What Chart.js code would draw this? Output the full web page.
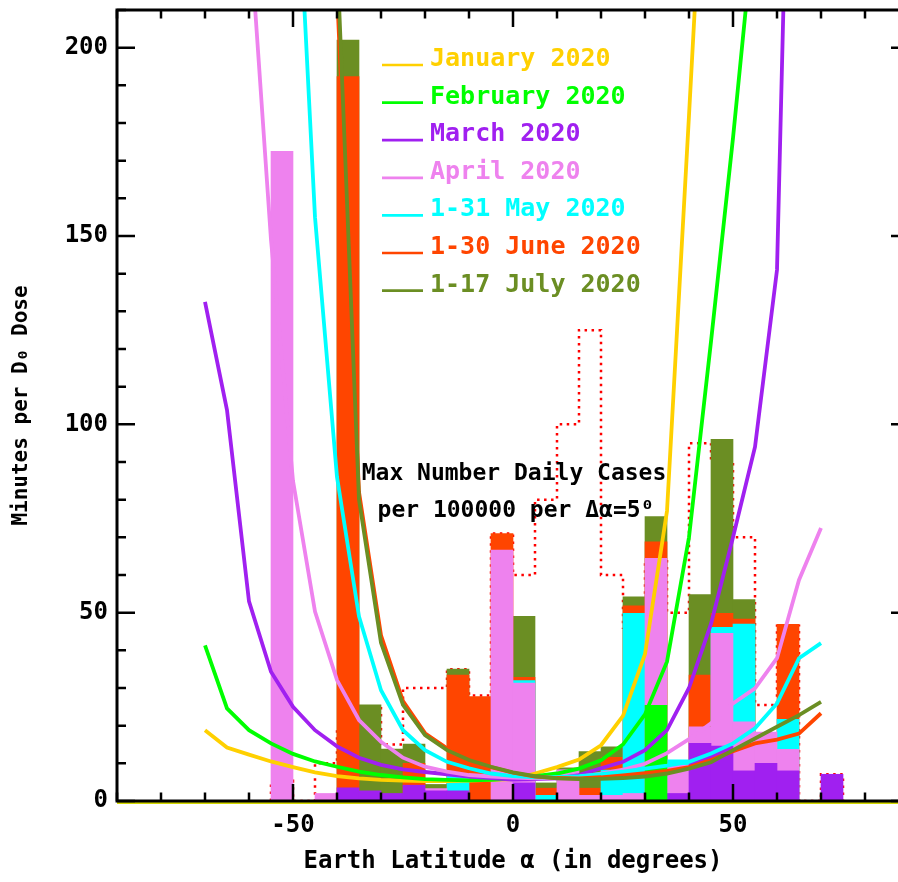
<!DOCTYPE html>
<html>
<head>
<meta charset="utf-8">
<title>Minutes per D0 dose vs latitude</title>
<script src="https://cdn.jsdelivr.net/npm/chart.js@4"></script>
<style>
  html, body { margin: 0; padding: 0; background: #fff; overflow: hidden; }
  #wrap { position: absolute; left: 0; top: 0; }
</style>
</head>
<body>
<div id="wrap"><canvas id="chart" width="909" height="882"></canvas></div>
<script>
// curve vertices, every 5 degrees of latitude
var latitude = [-70, -65, -60, -55, -50, -45, -40, -35, -30, -25, -20, -15, -10, -5, 0,
                5, 10, 15, 20, 25, 30, 35, 40, 45, 50, 55, 60, 65, 70];

var janMinutes = [18.8, 14.2, 12.3, 10.5, 9.0, 7.6, 6.6, 6.0, 5.6, 5.4, 5.3, 5.3, 5.4, 5.6, 5.8,
                  7.3, 9.0, 11.0, 14.8, 22.6, 39, 77, 182, 290, null, null, null, null, null];
var febMinutes = [41.3, 24.6, 18.8, 15.3, 12.5, 10.5, 9.1, 7.8, 6.9, 6.3, 5.8, 5.6, 5.5, 5.6, 6.0,
                  6.6, 7.3, 8.6, 10.8, 15.0, 23, 37, 70, 122, 176, 235, null, null, null];
var marMinutes = [132.5, 103.8, 53, 34.3, 25, 18.8, 14.5, 11.5, 9.6, 8.4, 7.7, 7.1, 6.5, 6.1, 5.7,
                  5.8, 6.0, 6.9, 8.7, 10.4, 13.5, 18.8, 30, 47, 70, 94, 141, 380, null];
var aprMinutes = [null, 400, 234, 149, 85, 50.3, 32.1, 21.5, 15.7, 11.5, 9.1, 7.8, 6.9, 6.5, 6.2,
                  6.0, 6.0, 6.4, 7.3, 8.3, 9.9, 12.7, 16.4, 20.6, 25.9, 29.9, 37.9, 58.7, 72.5];
var mayMinutes = [null, null, null, 480, 270, 155, 86, 49, 29.4, 18.8, 13.5, 10.4, 8.7, 7.3, 6.6,
                  6.3, 6.3, 6.6, 7.1, 7.8, 8.6, 9.4, 10.4, 12.6, 15.3, 19.3, 25.9, 37.9, 41.9];
var junMinutes = [null, null, null, null, null, 500, 215, 82, 44, 26.5, 18, 14, 11, 9, 7.5,
                  6.5, 6.1, 6.0, 6.3, 6.8, 7.4, 8.0, 9.0, 10.9, 13.2, 15.3, 16.3, 17.9, 23.3];
var julMinutes = [null, null, null, null, null, 520, 225, 80, 42, 25.5, 17.5, 13.5, 10.9, 9.1, 7.6,
                  6.6, 6.0, 5.8, 5.9, 6.1, 6.5, 7.3, 8.6, 10.3, 13.5, 16.6, 19.7, 22.8, 26.3];

// histogram bins (centre of each 5 degree bin)
var binCenters = [-52.5, -47.5, -42.5, -37.5, -32.5, -27.5, -22.5, -17.5, -12.5, -7.5, -2.5,
                  2.5, 7.5, 12.5, 17.5, 22.5, 27.5, 32.5, 37.5, 42.5, 47.5, 52.5, 57.5, 62.5, 67.5, 72.5];
var binWidth = 5;

// max daily cases per 100000 in each bin
var julCases = [0, 0, 0, 202, 25.5, 13.8, 15.1, 4.4, 35.0, 0, 0,
                49, 4.8, 8.8, 13.1, 14.4, 54.2, 75.5, 0, 54.8, 96, 53.5, 0, 0, 0, 0];
var junCases = [0, 0, 0, 192.3, 0, 0, 10, 0, 33.4, 27.7, 71,
                32.8, 3.4, 0, 3.4, 11.6, 51.8, 68.8, 0, 33.4, 49.8, 48.3, 0, 46.9, 0, 0];
var mayCases = [0, 0, 0, 0, 0, 0, 0, 0, 7, 0, 0,
                32, 1.5, 0, 0, 8.2, 49.8, 0, 10.9, 0, 46.1, 47, 0, 21.7, 0, 0];
var aprCases = [172.5, 0, 2, 0, 0, 0, 0, 3.3, 0, 0, 66.6,
                31.3, 0, 8.3, 1.5, 1.5, 2, 64.4, 9.5, 19.7, 44.5, 21, 18.3, 13.7, 0, 0];
var marCases = [0, 0, 0, 3.5, 2.7, 2.0, 4.2, 2.7, 2.7, 0, 0,
                4.8, 0, 0, 0, 0, 0, 0, 2, 15.3, 14.6, 8, 10, 8, 0, 7.1];
var febCases = [0, 0, 0, 0, 0, 0, 0, 0, 0, 0, 0,
                0, 0, 0, 0, 0, 0, 25.4, 0, 0, 0, 0, 0, 0, 0, 0];
// dotted red histogram
var dottedCases = [5.4, 0, 10, 19.5, 25, 15, 30, 30, 35, 28, 71,
                   60, 80, 100, 125, 60, 46, 64, 50, 95, 90, 70, 25.5, 46.5, 0, 7.1];

var xTickValues = [-50, 0, 50];
var yTickValues = [0, 50, 100, 150, 200];

var monthLabels = ['January 2020', 'February 2020', 'March 2020', 'April 2020',
                   '1-31 May 2020', '1-30 June 2020', '1-17 July 2020'];
var monthColors = ['#FFD000', '#00FF00', '#A020F0', '#EE82EE', '#00FFFF', '#FF4500', '#6B8E23'];

var FONT = '"DejaVu Sans Mono", "Liberation Mono", monospace';

function curvePoints(xs, ys) {
    var out = [];
    for (var i = 0; i < xs.length; i++) {
        if (ys[i] !== null) out.push({ x: xs[i], y: ys[i] });
    }
    return out;
}

function barPoints(ys) {
    return binCenters.map((c, i) => ({ x: c, y: ys[i] }));
}

function stepPoints(ys) {
    var out = [{ x: binCenters[0] - binWidth / 2, y: 0 }];
    binCenters.forEach((c, i) => out.push({ x: c - binWidth / 2, y: ys[i] }));
    out.push({ x: binCenters[binCenters.length - 1] + binWidth / 2, y: 0 });
    return out;
}

var curves = [janMinutes, febMinutes, marMinutes, aprMinutes, mayMinutes, junMinutes, julMinutes];
// bars drawn back to front: July behind, February in front
var bars = [
    { data: julCases, month: 6 },
    { data: junCases, month: 5 },
    { data: mayCases, month: 4 },
    { data: aprCases, month: 3 },
    { data: marCases, month: 2 },
    { data: febCases, month: 1 }
];

var datasets = [];

datasets.push({
    type: 'line',
    label: 'cases',
    data: stepPoints(dottedCases),
    stepped: true,
    borderColor: '#FF0000',
    borderWidth: 2.5,
    borderDash: [2.5, 4.5],
    pointRadius: 0,
    fill: false,
    order: 100
});

bars.forEach((b, i) => {
    datasets.push({
        type: 'bar',
        label: monthLabels[b.month] + ' cases',
        data: barPoints(b.data),
        backgroundColor: monthColors[b.month],
        borderWidth: 0,
        barPercentage: 1,
        categoryPercentage: 1,
        grouped: false,
        order: 90 - i
    });
});

curves.forEach((c, i) => {
    datasets.push({
        type: 'line',
        label: monthLabels[i],
        data: curvePoints(latitude, c),
        borderColor: monthColors[i],
        borderWidth: 3.8,
        pointRadius: 0,
        tension: 0,
        fill: false,
        legendRow: i,
        order: 10 - i
    });
});

var overlayPlugin = {
    id: 'overlay',
    afterDraw: function (chart) {
        var ctx = chart.ctx;
        var area = chart.chartArea;
        var xs = chart.scales.x, ys = chart.scales.y;
        ctx.save();

        // thin yellow base line just under the x axis
        ctx.strokeStyle = '#D4D800';
        ctx.lineWidth = 2;
        ctx.beginPath();
        ctx.moveTo(area.left, area.bottom + 2);
        ctx.lineTo(area.right, area.bottom + 2);
        ctx.stroke();

        // frame with inward ticks
        ctx.strokeStyle = '#000';
        ctx.lineWidth = 3;
        ctx.strokeRect(area.left, area.top, area.right - area.left, area.bottom - area.top);
        ctx.lineWidth = 2.5;
        ctx.beginPath();
        for (var v = xs.min; v <= xs.max; v += 10) {
            var px = xs.getPixelForValue(v);
            var len = v % 50 === 0 ? 17 : 8.5;
            ctx.moveTo(px, area.bottom); ctx.lineTo(px, area.bottom - len);
            ctx.moveTo(px, area.top); ctx.lineTo(px, area.top + len);
        }
        for (var w = ys.min; w <= ys.max; w += 10) {
            var py = ys.getPixelForValue(w);
            var len2 = w % 50 === 0 ? 18 : 9;
            ctx.moveTo(area.left, py); ctx.lineTo(area.left + len2, py);
            ctx.moveTo(area.right, py); ctx.lineTo(area.right - len2, py);
        }
        ctx.stroke();

        // legend
        ctx.font = 'bold 25px ' + FONT;
        ctx.textAlign = 'left';
        ctx.textBaseline = 'alphabetic';
        chart.data.datasets.forEach(ds => {
            if (ds.legendRow === undefined) return;
            var yy = area.top + 55 + ds.legendRow * 37.6;
            ctx.strokeStyle = ds.borderColor;
            ctx.lineWidth = 2.7;
            ctx.beginPath();
            ctx.moveTo(382, yy);
            ctx.lineTo(423, yy);
            ctx.stroke();
            ctx.fillStyle = ds.borderColor;
            ctx.fillText(ds.label, 430, yy + 1);
        });

        // annotation
        ctx.fillStyle = '#000';
        ctx.font = 'bold 23px ' + FONT;
        ctx.textAlign = 'center';
        ctx.textBaseline = 'middle';
        ctx.fillText('Max Number Daily Cases', 514, 474);
        ctx.fillText('per 100000 per \u0394\u03b1=5\u2070', 516, 511);
        ctx.restore();
    }
};

new Chart(document.getElementById('chart').getContext('2d'), {
    type: 'bar',
    data: { datasets: datasets },
    options: {
        responsive: false,
        animation: false,
        layout: { padding: { top: 10, right: 0, bottom: 0, left: 0 } },
        plugins: { legend: { display: false }, tooltip: { enabled: false } },
        scales: {
            x: {
                type: 'linear',
                min: -90,
                max: 90,
                offset: false,
                grid: { display: false, drawTicks: false },
                border: { display: false },
                afterBuildTicks: s => { s.ticks = xTickValues.map(v => ({ value: v })); },
                afterFit: s => { s.height = 81; s.paddingLeft = 0; s.paddingRight = 0; },
                ticks: {
                    color: '#000',
                    padding: 10,
                    maxRotation: 0,
                    autoSkip: false,
                    font: { family: FONT, size: 24, weight: 'bold' }
                },
                title: {
                    display: true,
                    text: 'Earth Latitude \u03b1 (in degrees)',
                    color: '#000',
                    font: { family: FONT, size: 24, weight: 'bold' },
                    padding: { top: 0, bottom: 6 }
                }
            },
            y: {
                type: 'linear',
                min: 0,
                max: 210,
                grid: { display: false, drawTicks: false },
                border: { display: false },
                afterBuildTicks: s => { s.ticks = yTickValues.map(v => ({ value: v })); },
                afterFit: s => { s.width = 117; s.paddingTop = 0; s.paddingBottom = 0; },
                ticks: {
                    color: '#000',
                    padding: 9,
                    font: { family: FONT, size: 24, weight: 'bold' }
                },
                title: {
                    display: true,
                    text: 'Minutes per D\u2080 Dose',
                    color: '#000',
                    font: { family: FONT, size: 21, weight: 'bold' },
                    padding: { top: 9, bottom: 0 }
                }
            }
        }
    },
    plugins: [overlayPlugin]
});
</script>
</body>
</html>
